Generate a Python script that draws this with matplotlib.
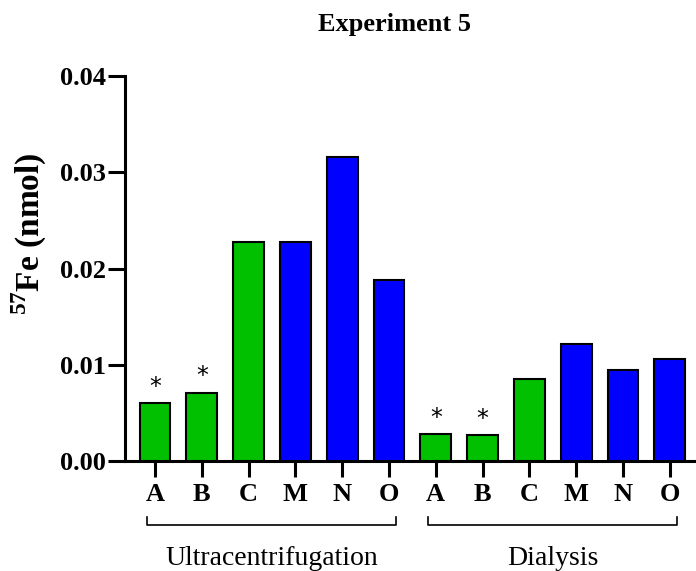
import numpy as np
import matplotlib.pyplot as plt

plt.rcParams['font.family'] = 'Liberation Serif'
plt.rcParams['mathtext.fontset'] = 'custom'
plt.rcParams['mathtext.rm'] = 'Liberation Serif:bold'
plt.rcParams['mathtext.bf'] = 'Liberation Serif:bold'

# data
labels = ["A", "B", "C", "M", "N", "O", "A", "B", "C", "M", "N", "O"]
values = [0.0060, 0.0071, 0.0228, 0.0228, 0.0316, 0.0188,
          0.0028, 0.0027, 0.0085, 0.0122, 0.0095, 0.0106]
starred = [1, 1, 0, 0, 0, 0, 1, 1, 0, 0, 0, 0]
groups = ["Ultracentrifugation", "Dialysis"]

green = "#00c000"
blue = "#0000ff"
colors = [green if l in "ABC" else blue for l in labels]

fig = plt.figure(figsize=(6.96, 5.71), dpi=100)
ax = fig.add_axes([125/696, 1 - 461/571, 1 - 125/696, (461 - 76)/571])

x = np.arange(len(values))
ax.bar(x, values, width=0.66, color=colors, edgecolor='black', linewidth=1.5, zorder=3)

for xi, v, s in zip(x, values, starred):
    if s:
        ax.annotate("*", (xi, v), xytext=(0, 3), textcoords='offset points',
                    ha='center', va='bottom', fontsize=17, fontfamily='DejaVu Sans')

ax.set_xlim(-0.64, 11.56)
ax.set_ylim(0, 0.04)
ax.set_yticks([0, 0.01, 0.02, 0.03, 0.04])
ax.set_yticklabels(["0.00", "0.01", "0.02", "0.03", "0.04"])
ax.set_xticks(x)
ax.set_xticklabels(labels)
for lab in ax.get_xticklabels() + ax.get_yticklabels():
    lab.set_fontweight('bold')
    lab.set_fontsize(19)

ax.spines['top'].set_visible(False)
ax.spines['right'].set_visible(False)
ax.spines['left'].set_linewidth(2.2)
ax.spines['bottom'].set_linewidth(2.2)
ax.tick_params(axis='x', length=11.5, width=2.2, pad=4)
ax.tick_params(axis='y', length=12, width=2.2, pad=2)

ax.set_ylabel(r"$^{57}$Fe (nmol)", fontsize=24, fontweight='bold')
ax.yaxis.set_label_coords(-0.133, 0.59)
fig.text(394/696, 1 - 25/571, "Experiment 5", fontsize=19, fontweight='bold',
         ha='center', va='center')

# group brackets
tr = ax.get_xaxis_transform()
for (start, end), name in zip([(0, 5), (6, 11)], groups):
    x0, x1 = start - 0.16, end + 0.16
    ax.plot([x0, x0, x1, x1], [-0.145, -0.166, -0.166, -0.145], color='black',
            linewidth=1.2, transform=tr, clip_on=False)
    ax.text((start + end) / 2, -0.252, name, transform=tr, ha='center', va='center',
            fontsize=20)

plt.savefig("out.png", dpi=100)
